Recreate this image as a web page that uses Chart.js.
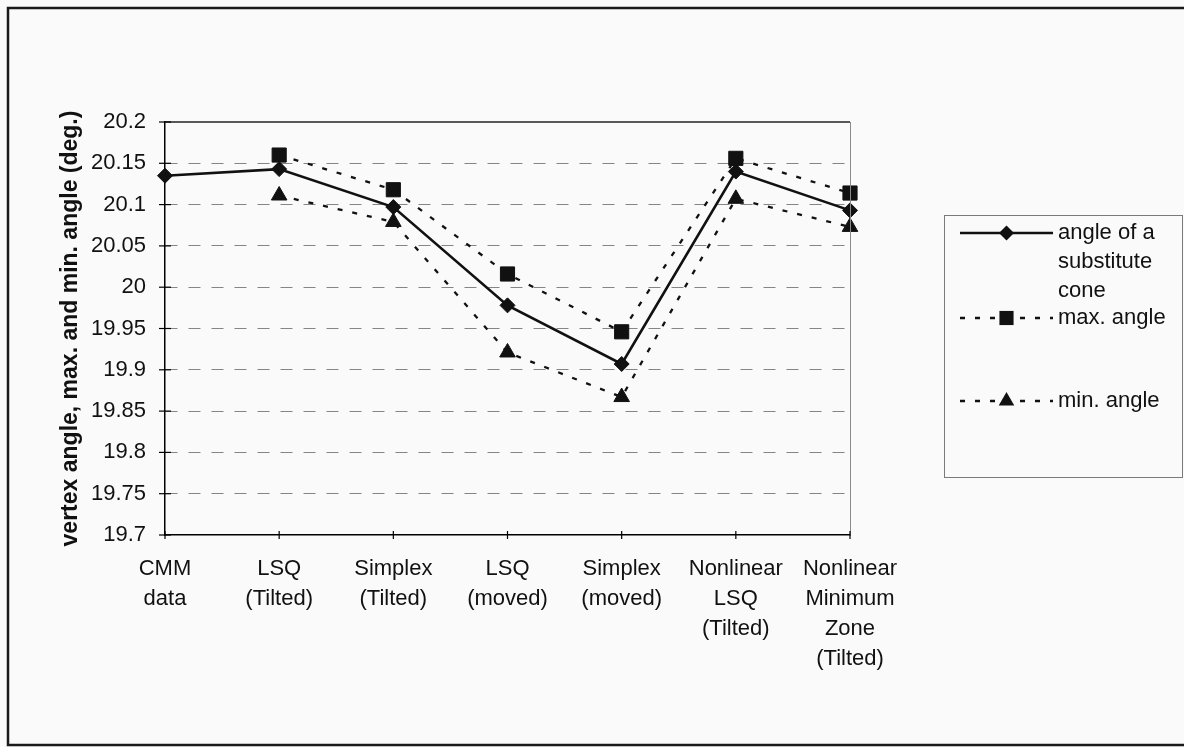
<!DOCTYPE html>
<html>
<head>
<meta charset="utf-8">
<script src="https://cdn.jsdelivr.net/npm/chart.js@4.4.1/dist/chart.umd.min.js"></script>
<style>
  html, body { margin: 0; padding: 0; background: #fafafa; }
  #wrap { width: 1184px; height: 747px; position: relative; }
</style>
</head>
<body>
<div id="wrap"><canvas id="c" width="1184" height="747"></canvas></div>
<script>
// Fitting methods compared on the cone data set
const categories = [
  ['CMM', 'data'],
  ['LSQ', '(Tilted)'],
  ['Simplex', '(Tilted)'],
  ['LSQ', '(moved)'],
  ['Simplex', '(moved)'],
  ['Nonlinear', 'LSQ', '(Tilted)'],
  ['Nonlinear', 'Minimum', 'Zone', '(Tilted)']
];
// Vertex angle of the substitute cone (deg.)
const coneAngle = [20.135, 20.143, 20.097, 19.978, 19.907, 20.140, 20.093];
// Largest and smallest angle (deg.); no spread for the raw CMM data
const maxAngle = [null, 20.160, 20.118, 20.016, 19.946, 20.156, 20.114];
const minAngle = [null, 20.111, 20.079, 19.921, 19.867, 20.107, 20.073];
// Value axis ticks
const yTicks = [19.7, 19.75, 19.8, 19.85, 19.9, 19.95, 20, 20.05, 20.1, 20.15, 20.2];
const seriesNames = [['angle of a', 'substitute', 'cone'], ['max. angle'], ['min. angle']];
const yTitle = 'vertex angle, max. and min. angle (deg.)';

const FONT = "'Liberation Sans', Arial, sans-serif";
const INK = '#111';
Chart.defaults.font.family = FONT;
Chart.defaults.color = INK;

// Marker shapes, same geometry as Chart.js point styles
function marker(ctx, style, r, x, y) {
  ctx.beginPath();
  if (style === 'rectRot') {
    ctx.moveTo(x - r, y); ctx.lineTo(x, y - r); ctx.lineTo(x + r, y); ctx.lineTo(x, y + r);
  } else if (style === 'rect') {
    const s = Math.SQRT1_2 * r;
    ctx.rect(x - s, y - s, 2 * s, 2 * s);
  } else {
    let a = 0;
    for (let k = 0; k < 3; k++) {
      const px = x + Math.sin(a) * r, py = y - Math.cos(a) * r;
      if (k === 0) ctx.moveTo(px, py); else ctx.lineTo(px, py);
      a += 2 * Math.PI / 3;
    }
  }
  ctx.closePath();
  ctx.fill();
}

const decor = {
  id: 'decor',
  beforeDraw(chart) {
    const ctx = chart.ctx;
    ctx.save();
    ctx.fillStyle = '#fafafa';
    ctx.fillRect(0, 0, chart.width, chart.height);
    // outer frame, running off the right edge
    ctx.strokeStyle = '#1a1a1a';
    ctx.lineWidth = 2.5;
    ctx.strokeRect(8, 8, chart.width + 20, 737);
    ctx.restore();
  },
  afterDraw(chart) {
    const ctx = chart.ctx;
    const a = chart.chartArea;
    const xs = chart.scales.x, ys = chart.scales.y;
    ctx.save();
    // plot area top and right edges
    ctx.strokeStyle = '#222';
    ctx.lineWidth = 1.5;
    ctx.beginPath(); ctx.moveTo(a.left, a.top); ctx.lineTo(a.right, a.top); ctx.stroke();
    ctx.strokeStyle = '#8a8a8a';
    ctx.lineWidth = 1;
    ctx.beginPath(); ctx.moveTo(a.right + 0.5, a.top); ctx.lineTo(a.right + 0.5, a.bottom); ctx.stroke();
    // tick marks crossing both axes
    ctx.strokeStyle = '#000';
    ctx.lineWidth = 1.2;
    ys.ticks.forEach(t => {
      const py = ys.getPixelForValue(t.value);
      ctx.beginPath(); ctx.moveTo(a.left - 6, py); ctx.lineTo(a.left + 6, py); ctx.stroke();
    });
    categories.forEach((c, i) => {
      const px = xs.getPixelForTick(i);
      ctx.beginPath(); ctx.moveTo(px, a.bottom - 4); ctx.lineTo(px, a.bottom + 4); ctx.stroke();
    });

    // legend
    const box = { l: 944, t: 215, r: 1182, b: 477 };
    ctx.strokeStyle = '#7a7a7a';
    ctx.lineWidth = 1;
    ctx.strokeRect(box.l + 0.5, box.t + 0.5, box.r - box.l, box.b - box.t);
    const rows = [233, 318, 401];
    const x0 = 960, x1 = 1053, tx = 1058;
    chart.data.datasets.forEach((ds, i) => {
      const y = rows[i];
      ctx.strokeStyle = ds.borderColor;
      ctx.lineWidth = ds.borderWidth;
      ctx.setLineDash(ds.borderDash || []);
      ctx.beginPath(); ctx.moveTo(x0, y); ctx.lineTo(x1, y); ctx.stroke();
      ctx.setLineDash([]);
      ctx.fillStyle = ds.pointBackgroundColor;
      marker(ctx, ds.pointStyle, ds.pointRadius, (x0 + x1) / 2, y);
      ctx.fillStyle = INK;
      ctx.font = '22px ' + FONT;
      ctx.textBaseline = 'middle';
      ctx.textAlign = 'left';
      seriesNames[i].forEach((s, k) => ctx.fillText(s, tx, y + k * 29));
    });
    ctx.restore();
  }
};

new Chart(document.getElementById('c'), {
  type: 'line',
  data: {
    labels: categories,
    datasets: [
      {
        label: seriesNames[0].join(' '),
        data: coneAngle,
        borderColor: INK, borderWidth: 2.6,
        pointStyle: 'rectRot', pointRadius: 7.5,
        pointBackgroundColor: INK, pointBorderColor: INK, pointBorderWidth: 1,
        tension: 0, clip: false
      },
      {
        label: seriesNames[1].join(' '),
        data: maxAngle,
        borderColor: INK, borderWidth: 2.3, borderDash: [5, 10],
        pointStyle: 'rect', pointRadius: 10,
        pointBackgroundColor: INK, pointBorderColor: INK, pointBorderWidth: 1,
        tension: 0, clip: false
      },
      {
        label: seriesNames[2].join(' '),
        data: minAngle,
        borderColor: INK, borderWidth: 2.3, borderDash: [5, 10],
        pointStyle: 'triangle', pointRadius: 9,
        pointBackgroundColor: INK, pointBorderColor: INK, pointBorderWidth: 1,
        tension: 0, clip: false
      }
    ]
  },
  options: {
    responsive: false,
    animation: false,
    events: [],
    layout: { padding: { left: 0, top: 122, right: 334, bottom: 0 } },
    plugins: { legend: { display: false }, tooltip: { enabled: false } },
    scales: {
      x: {
        type: 'category',
        offset: false,
        grid: { display: false, drawTicks: false },
        border: { display: true, color: '#000', width: 1.5 },
        ticks: {
          font: { size: 22, lineHeight: '30px' },
          padding: 19, maxRotation: 0, minRotation: 0, autoSkip: false, color: INK
        },
        afterFit(s) { s.height = 212; }
      },
      y: {
        type: 'linear',
        min: 19.7, max: 20.2,
        afterBuildTicks(s) { s.ticks = yTicks.map(v => ({ value: v })); },
        afterFit(s) { s.width = 165; },
        grid: {
          drawTicks: false, lineWidth: 1,
          color: c => (c.tick && (c.tick.value === 19.7 || c.tick.value === 20.2)) ? 'rgba(0,0,0,0)' : '#858585'
        },
        border: { display: true, color: '#000', width: 1.5, dash: [12, 11] },
        ticks: {
          font: { size: 22 }, padding: 19, color: INK,
          callback: v => String(v)
        },
        title: {
          display: true, text: yTitle, color: INK,
          font: { size: 23, weight: 'bold' },
          padding: { top: 57, bottom: 0 }
        }
      }
    }
  },
  plugins: [decor]
});
</script>
</body>
</html>
